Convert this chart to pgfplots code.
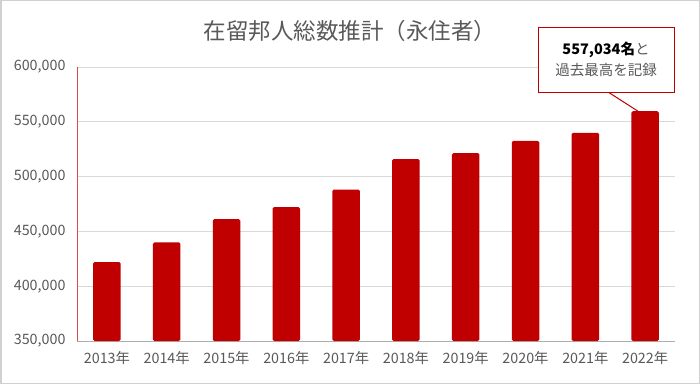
\documentclass[border=0pt]{standalone}
\usepackage{fontspec}
\setmainfont{Noto Sans CJK JP}
\usepackage{pgfplots}
\pgfplotsset{compat=1.18}
\definecolor{barred}{HTML}{C00000}
\definecolor{txtgray}{HTML}{595959}
\definecolor{gridgray}{HTML}{D9D9D9}
\begin{document}
\begin{tikzpicture}[x=1pt,y=1pt]
\fill[white] (0,0) rectangle (700,384);
\draw[color=black!18, line width=1.5pt] (0.75,0.75) rectangle (699.25,383.25);
\begin{axis}[at={(77pt,43pt)}, anchor=south west, scale only axis,
  width=598pt, height=274pt,
  ymin=350000, ymax=600000, xmin=-0.5, xmax=9.5,
  ytick={350000,400000,450000,500000,550000,600000},
  xtick={0,...,9},
  xticklabels={2013年,2014年,2015年,2016年,2017年,2018年,2019年,2020年,2021年,2022年},
  scaled y ticks=false,
  /pgf/number format/assume math mode=true,
  yticklabel={\pgfmathprintnumber[fixed,1000 sep={,}]{\tick}},
  ymajorgrids, grid style={gridgray, line width=0.8pt},
  axis x line*=bottom, axis y line*=left,
  axis line style={-},
  x axis line style={draw=gridgray!80!black, line width=0.8pt},
  y axis line style={draw=barred!70, line width=0.8pt},
  major tick length=0pt, tick style={draw=none},
  ticklabel style={font=\fontsize{14.3}{17}\selectfont, text=txtgray},
  yticklabel style={xshift=-8pt},
  xticklabel style={yshift=-7pt},
]
\addplot[ybar, bar width=27.5pt, fill=barred, draw=none, rounded corners=1.5pt] coordinates {
  (0,422000) (1,440000) (2,461100) (3,472200) (4,488200)
  (5,516000) (6,521400) (7,532500) (8,540000) (9,559700)
};
\coordinate (bartop) at (axis cs:8.88,559700);
\end{axis}
\node[font=\fontsize{22.5}{26}\selectfont, text=txtgray] at (350,353) {在留邦人総数推計（永住者）};
\draw[barred, line width=1pt] (608,292) -- (bartop);
\node[draw=barred, line width=1pt, fill=white, minimum width=136pt, minimum height=65pt, align=center, font=\fontsize{14.5}{18}\selectfont] at (606,324.5)
  {{\bfseries 557,034名}{\color{txtgray}と}\\[3pt]{\color{txtgray}過去最高を記録}};
\end{tikzpicture}
\end{document}
